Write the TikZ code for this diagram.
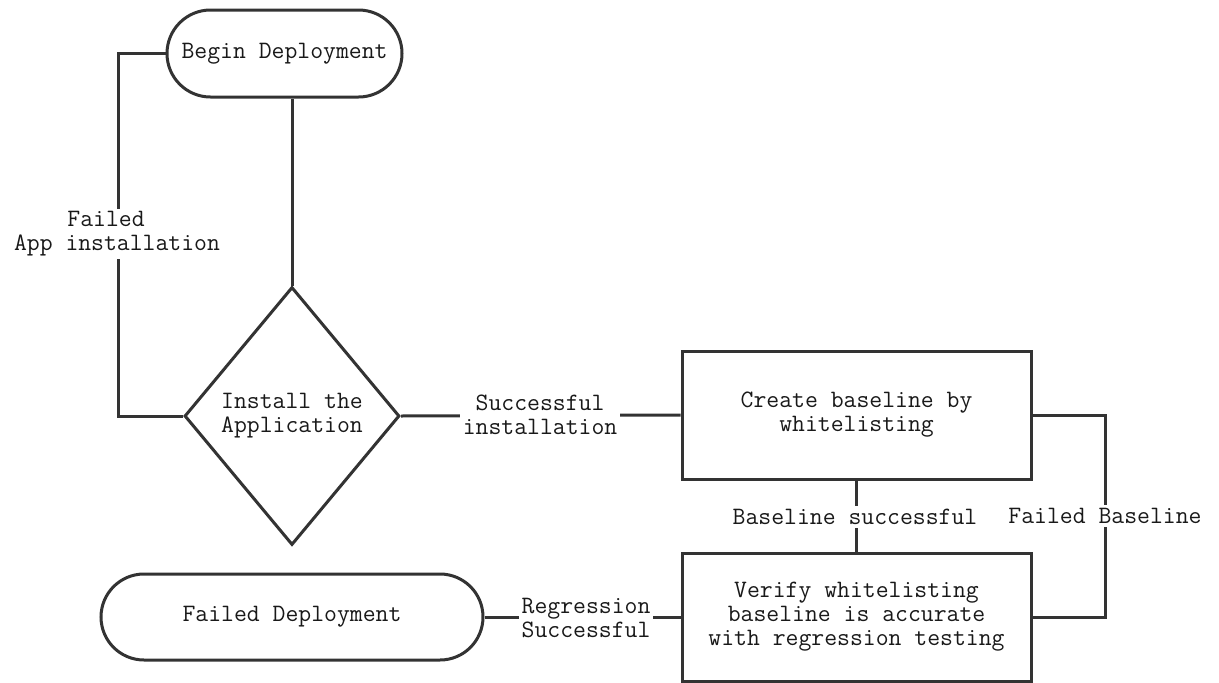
\documentclass[tikz,border=0pt]{standalone}
\usetikzlibrary{shapes.geometric,shapes.misc}
\definecolor{ink}{rgb}{0.2,0.2,0.2}
\definecolor{txt}{rgb}{0.1,0.1,0.1}
\begin{document}
\begin{tikzpicture}[x=1pt,y=-1pt,
  every node/.style={font=\ttfamily\fontsize{25}{24}\selectfont, text=txt},
  terminal/.style={rounded rectangle, draw=ink, line width=3pt, minimum height=87pt, inner sep=0pt},
  procbox/.style={rectangle, draw=ink, line width=3pt, minimum width=349pt, minimum height=128pt, align=center, inner sep=0pt},
  decision/.style={diamond, draw=ink, line width=3pt, minimum width=215pt, minimum height=258pt, inner sep=0pt, align=center},
  lbl/.style={fill=white, inner sep=3pt, align=center},
  conn/.style={draw=ink, line width=3pt}]
\useasboundingbox (0,0) rectangle (1219,683);
\fill[white] (0,0) rectangle (1219,683);

\node[terminal, minimum width=235pt] (begin) at (284.5,53.5) {Begin Deployment};
\node[decision] (inst) at (292,416) {Install the\\Application};
\node[procbox] (create) at (856.5,415) {Create baseline by\\whitelisting};
\node[procbox] (verify) at (856.5,617) {Verify whitelisting\\baseline is accurate\\with regression testing};
\node[terminal, minimum width=382pt, minimum height=86pt] (faildep) at (292,617) {Failed Deployment};

\coordinate (lx) at (118,416);
\coordinate (rx) at (1105,415);

% begin -> install
\draw[conn] (inst.north) -- (inst.north |- begin.south);
% failed installation loop
\draw[conn] (inst.west) -- (lx) |- (begin.west);
% successful installation
\draw[conn] (inst.east) -- (create.west);
% baseline successful
\draw[conn] (create.south) -- (verify.north);
% failed baseline loop
\draw[conn] (create.east) -- (rx) |- (verify.east);
% regression successful
\draw[conn] (verify.west) -- (faildep.east);

\node[lbl] (l1) at (117,234) {Failed\hspace*{22pt}\\App installation};
\node[lbl] (l2) at (540,415) {Successful\\installation};
\node[lbl] (l3) at (855,517) {Baseline successful};
\node[lbl] (l4) at (1105,516) {Failed Baseline};
\node[lbl] (l5) at (586,618) {Regression\\Successful};
\end{tikzpicture}
\end{document}
